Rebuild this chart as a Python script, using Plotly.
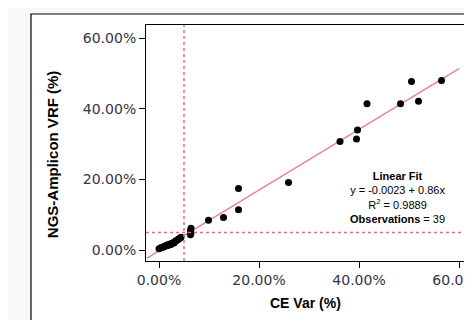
import plotly.graph_objects as go

# CE Var (x) vs NGS-Amplicon VRF (y), as fractions
ce_var = [0.000, 0.003, 0.005, 0.008, 0.010, 0.012, 0.014, 0.016, 0.018, 0.020, 0.022,
          0.024, 0.026, 0.028, 0.030, 0.032, 0.034, 0.036, 0.038, 0.040, 0.042, 0.044,
          0.063, 0.064, 0.063, 0.064,
          0.099, 0.129, 0.159, 0.159, 0.259, 0.362, 0.395, 0.397, 0.416, 0.483, 0.505, 0.519, 0.565]
ngs_vrf = [0.004, 0.006, 0.007, 0.008, 0.010, 0.011, 0.012, 0.014, 0.013, 0.016, 0.017,
           0.016, 0.019, 0.021, 0.020, 0.024, 0.026, 0.028, 0.030, 0.032, 0.034, 0.036,
           0.043, 0.048, 0.055, 0.062,
           0.084, 0.092, 0.114, 0.174, 0.191, 0.307, 0.314, 0.340, 0.414, 0.414, 0.477, 0.421, 0.480]

fit_intercept = -0.0023
fit_slope = 0.86
fit_x = [-0.025, 0.60]
fit_y = [fit_intercept + fit_slope * v for v in fit_x]

cutoff = 0.05
ticks = [0.0, 0.2, 0.4, 0.6]

fig = go.Figure()
fig.add_trace(go.Scatter(x=fit_x, y=fit_y, mode="lines",
                         line=dict(color="#e8868c", width=1.5), hoverinfo="skip"))
fig.add_trace(go.Scatter(x=ce_var, y=ngs_vrf, mode="markers",
                         marker=dict(color="black", size=7)))

# outer frame
fig.add_shape(type="rect", xref="paper", yref="paper", x0=-0.355, x1=1.2, y0=-0.4, y1=1.0466,
              line=dict(color="black", width=1.2), fillcolor="white", layer="below")
# cutoff dotted lines
fig.add_shape(type="line", xref="x", yref="paper", x0=cutoff, x1=cutoff, y0=0, y1=1,
              line=dict(color="#ea6a80", width=1.5, dash="dot"))
fig.add_shape(type="line", xref="paper", yref="y", x0=0, x1=1, y0=cutoff, y1=cutoff,
              line=dict(color="#ea6a80", width=1.5, dash="dot"))

fig.add_annotation(x=0.476, y=0.148, xref="x", yref="y", showarrow=False,
                   text="<b>Linear Fit</b><br>y = -0.0023 + 0.86x<br>R<sup>2</sup> = 0.9889<br><b>Observations</b> = 39",
                   font=dict(family="Liberation Sans Narrow, Liberation Sans", size=11, color="black"),
                   align="center")

# axis titles
fig.add_annotation(x=0.491, y=-0.178, xref="paper", yref="paper", showarrow=False,
                   text="<b>CE Var (%)</b>", yanchor="middle",
                   font=dict(family="Liberation Sans", size=14, color="black"))
fig.add_annotation(x=-0.29, y=0.453, xref="paper", yref="paper", showarrow=False,
                   text="<b>NGS-Amplicon VRF (%)</b>", textangle=-90, xanchor="center", yanchor="middle",
                   font=dict(family="Liberation Sans", size=15, color="black"))

tickfont = dict(family="DejaVu Sans", size=14, color="#33334a")
fig.update_xaxes(range=[-0.026, 0.622], tickvals=ticks, tickformat=".2%", automargin=False,
                 showline=True, mirror=True, linecolor="black", linewidth=1,
                 ticks="outside", ticklen=6, tickcolor="black", showgrid=False, zeroline=False,
                 tickfont=tickfont, ticklabeloverflow="allow")
fig.update_yaxes(range=[-0.031, 0.637], tickvals=ticks, tickformat=".2%", automargin=False,
                 showline=True, mirror=True, linecolor="black", linewidth=1,
                 ticks="outside", ticklen=6, tickcolor="black", showgrid=False, zeroline=False,
                 tickfont=tickfont, ticklabeloverflow="allow")

fig.update_layout(width=464, height=312, showlegend=False,
                  margin=dict(l=138, r=2, t=17, b=59),
                  paper_bgcolor="#f8f8f8", plot_bgcolor="white")
fig.write_html("out.html")
